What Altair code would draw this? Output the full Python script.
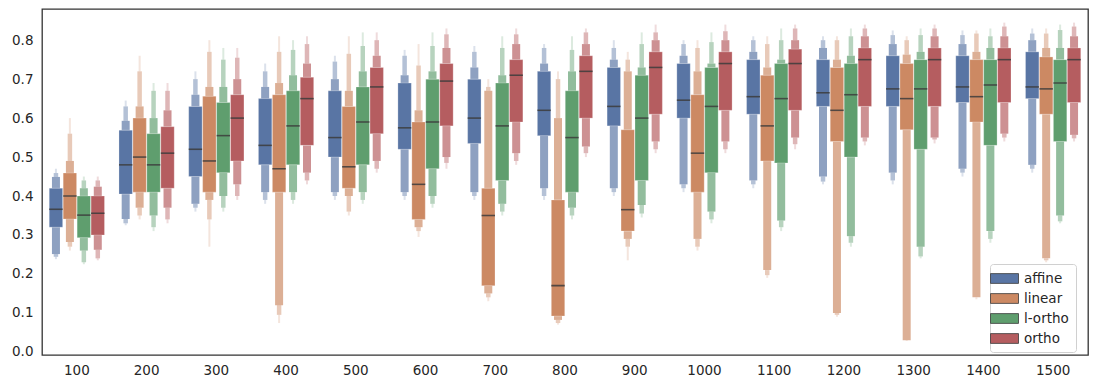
import altair as alt
import pandas as pd

GROUPS = ["100", "200", "300", "400", "500", "600", "700", "800", "900",
          "1000", "1100", "1200", "1300", "1400", "1500"]
METHODS = ["affine", "linear", "l-ortho", "ortho"]
COLORS = ["#5975A4", "#CC8963", "#5F9E6E", "#B55D60"]

# per group: (l4lo, l3lo, l2lo, l1lo, median, l1hi, l2hi, l3hi, l4hi)
AFFINE = [
    (0.238, 0.244, 0.251, 0.32, 0.366, 0.42, 0.449, 0.459, 0.47),
    (0.325, 0.33, 0.341, 0.405, 0.48, 0.569, 0.593, 0.63, 0.645),
    (0.36, 0.37, 0.38, 0.45, 0.52, 0.63, 0.66, 0.70, 0.72),
    (0.38, 0.39, 0.41, 0.48, 0.53, 0.65, 0.68, 0.72, 0.74),
    (0.39, 0.40, 0.41, 0.50, 0.55, 0.67, 0.70, 0.745, 0.76),
    (0.39, 0.40, 0.41, 0.52, 0.575, 0.69, 0.71, 0.76, 0.775),
    (0.39, 0.40, 0.41, 0.535, 0.60, 0.70, 0.73, 0.77, 0.785),
    (0.39, 0.40, 0.42, 0.555, 0.62, 0.72, 0.74, 0.78, 0.79),
    (0.40, 0.41, 0.42, 0.58, 0.63, 0.73, 0.75, 0.78, 0.80),
    (0.41, 0.42, 0.43, 0.60, 0.646, 0.74, 0.76, 0.79, 0.80),
    (0.42, 0.43, 0.44, 0.61, 0.655, 0.75, 0.77, 0.80, 0.81),
    (0.43, 0.437, 0.45, 0.63, 0.665, 0.75, 0.78, 0.80, 0.81),
    (0.43, 0.44, 0.46, 0.63, 0.675, 0.76, 0.79, 0.813, 0.825),
    (0.45, 0.46, 0.47, 0.64, 0.68, 0.76, 0.79, 0.813, 0.825),
    (0.46, 0.47, 0.48, 0.65, 0.68, 0.77, 0.80, 0.817, 0.83),
]
LINEAR = [
    (0.26, 0.27, 0.282, 0.341, 0.40, 0.459, 0.49, 0.56, 0.60),
    (0.34, 0.35, 0.37, 0.41, 0.50, 0.60, 0.63, 0.72, 0.76),
    (0.27, 0.34, 0.39, 0.41, 0.49, 0.656, 0.68, 0.77, 0.80),
    (0.074, 0.095, 0.12, 0.41, 0.47, 0.66, 0.69, 0.77, 0.81),
    (0.35, 0.36, 0.40, 0.42, 0.475, 0.63, 0.67, 0.765, 0.81),
    (0.295, 0.31, 0.32, 0.34, 0.43, 0.59, 0.62, 0.735, 0.79),
    (0.13, 0.14, 0.15, 0.17, 0.35, 0.42, 0.67, 0.68, 0.70),
    (0.07, 0.074, 0.082, 0.092, 0.17, 0.39, 0.60, 0.70, 0.72),
    (0.235, 0.27, 0.29, 0.31, 0.365, 0.57, 0.72, 0.75, 0.77),
    (0.26, 0.27, 0.29, 0.41, 0.51, 0.66, 0.72, 0.78, 0.80),
    (0.19, 0.197, 0.21, 0.49, 0.58, 0.71, 0.73, 0.79, 0.81),
    (0.09, 0.095, 0.10, 0.54, 0.62, 0.73, 0.75, 0.80, 0.81),
    (0.028, 0.03, 0.03, 0.57, 0.65, 0.74, 0.763, 0.80, 0.81),
    (0.135, 0.14, 0.14, 0.59, 0.655, 0.75, 0.77, 0.817, 0.825),
    (0.23, 0.235, 0.24, 0.61, 0.675, 0.757, 0.78, 0.817, 0.83),
]
LORTHO = [
    (0.225, 0.23, 0.26, 0.293, 0.351, 0.40, 0.42, 0.44, 0.45),
    (0.31, 0.32, 0.35, 0.41, 0.48, 0.56, 0.60, 0.67, 0.69),
    (0.36, 0.37, 0.40, 0.46, 0.555, 0.64, 0.68, 0.75, 0.78),
    (0.38, 0.39, 0.41, 0.48, 0.58, 0.67, 0.71, 0.775, 0.80),
    (0.38, 0.39, 0.41, 0.48, 0.59, 0.68, 0.72, 0.785, 0.82),
    (0.37, 0.38, 0.40, 0.47, 0.59, 0.70, 0.72, 0.785, 0.82),
    (0.35, 0.36, 0.38, 0.44, 0.58, 0.69, 0.71, 0.78, 0.81),
    (0.34, 0.35, 0.37, 0.41, 0.55, 0.67, 0.72, 0.775, 0.81),
    (0.345, 0.355, 0.377, 0.44, 0.60, 0.71, 0.73, 0.79, 0.82),
    (0.33, 0.34, 0.36, 0.46, 0.63, 0.73, 0.74, 0.795, 0.82),
    (0.31, 0.32, 0.337, 0.485, 0.65, 0.74, 0.75, 0.80, 0.83),
    (0.27, 0.28, 0.297, 0.50, 0.66, 0.74, 0.76, 0.81, 0.83),
    (0.24, 0.245, 0.27, 0.52, 0.675, 0.75, 0.77, 0.813, 0.83),
    (0.28, 0.29, 0.31, 0.53, 0.685, 0.75, 0.78, 0.81, 0.83),
    (0.33, 0.335, 0.35, 0.54, 0.69, 0.75, 0.78, 0.826, 0.84),
]
ORTHO = [
    (0.235, 0.24, 0.262, 0.30, 0.356, 0.40, 0.424, 0.44, 0.45),
    (0.33, 0.34, 0.37, 0.42, 0.51, 0.578, 0.62, 0.67, 0.69),
    (0.39, 0.40, 0.43, 0.49, 0.60, 0.66, 0.70, 0.755, 0.78),
    (0.43, 0.44, 0.46, 0.53, 0.65, 0.705, 0.74, 0.79, 0.81),
    (0.46, 0.47, 0.49, 0.56, 0.68, 0.73, 0.76, 0.80, 0.82),
    (0.47, 0.485, 0.50, 0.58, 0.695, 0.74, 0.78, 0.815, 0.83),
    (0.48, 0.49, 0.51, 0.59, 0.71, 0.75, 0.79, 0.815, 0.83),
    (0.50, 0.51, 0.527, 0.60, 0.72, 0.76, 0.79, 0.82, 0.83),
    (0.51, 0.52, 0.54, 0.61, 0.73, 0.77, 0.80, 0.82, 0.84),
    (0.51, 0.52, 0.54, 0.62, 0.74, 0.77, 0.80, 0.823, 0.84),
    (0.52, 0.533, 0.55, 0.62, 0.74, 0.777, 0.80, 0.83, 0.84),
    (0.53, 0.54, 0.55, 0.63, 0.75, 0.78, 0.81, 0.83, 0.84),
    (0.535, 0.545, 0.55, 0.63, 0.75, 0.78, 0.81, 0.83, 0.84),
    (0.54, 0.55, 0.56, 0.64, 0.75, 0.78, 0.81, 0.835, 0.845),
    (0.54, 0.548, 0.557, 0.64, 0.75, 0.78, 0.81, 0.835, 0.845),
]

SERIES = {"affine": AFFINE, "linear": LINEAR, "l-ortho": LORTHO, "ortho": ORTHO}

rows = []
for m in METHODS:
    for g, v in zip(GROUPS, SERIES[m]):
        l4lo, l3lo, l2lo, l1lo, med, l1hi, l2hi, l3hi, l4hi = v
        rows.append(dict(group=g, method=m, level=1, lo=l1lo, hi=l1hi))
        rows.append(dict(group=g, method=m, level=2, lo=l2lo, hi=l1lo))
        rows.append(dict(group=g, method=m, level=2, lo=l1hi, hi=l2hi))
        rows.append(dict(group=g, method=m, level=3, lo=l3lo, hi=l2lo))
        rows.append(dict(group=g, method=m, level=3, lo=l2hi, hi=l3hi))
        rows.append(dict(group=g, method=m, level=4, lo=l4lo, hi=l3lo))
        rows.append(dict(group=g, method=m, level=4, lo=l3hi, hi=l4hi))
        rows.append(dict(group=g, method=m, level=0, lo=med - 0.002, hi=med + 0.002))
df = pd.DataFrame(rows)

x_enc = alt.X("group:N", sort=GROUPS, title=None,
              scale=alt.Scale(paddingInner=0.2, paddingOuter=0.1),
              axis=alt.Axis(labelAngle=0, ticks=False, tickSize=0, domain=False,
                            labelPadding=8, labelFontSize=13.5, labelColor="#262626"))
y_enc = alt.Y("lo:Q", title=None,
              scale=alt.Scale(domain=[-0.008, 0.88], nice=False, zero=False),
              axis=alt.Axis(values=[0, 0.1, 0.2, 0.3, 0.4, 0.5, 0.6, 0.7, 0.8],
                            format=".1f", grid=False, ticks=False, tickSize=0,
                            domain=False, labelPadding=9, labelFontSize=13.5,
                            labelColor="#262626", minExtent=34, maxExtent=34))
xoff = alt.XOffset("method:N", sort=METHODS,
                   scale=alt.Scale(paddingInner=0, paddingOuter=0))
color = alt.Color("method:N", sort=METHODS,
                  scale=alt.Scale(domain=METHODS, range=COLORS),
                  legend=alt.Legend(title=None, orient="none", legendX=948, legendY=255,
                                    symbolType="M-2,-0.7H2V0.7H-2Z", symbolSize=196,
                                    symbolStrokeColor="#3a3a3a", symbolStrokeWidth=0.8,
                                    symbolOpacity=1, labelFontSize=13.5,
                                    labelColor="#262626", labelOffset=12, rowPadding=6,
                                    padding=7, fillColor="white", strokeColor="#d0d0d0",
                                    cornerRadius=3))

base = alt.Chart(df).encode(x=x_enc, xOffset=xoff, y=y_enc, y2="hi:Q", color=color)

l4 = base.transform_filter("datum.level == 4").mark_bar(width=2, opacity=0.22)
l3 = base.transform_filter("datum.level == 3").mark_bar(width=4.5, opacity=0.45)
l2 = base.transform_filter("datum.level == 2").mark_bar(width=8, opacity=0.68)
l1 = base.transform_filter("datum.level == 1").mark_bar(
    width=13.4, opacity=1, stroke="white", strokeWidth=0.4, strokeOpacity=0.6)
md = alt.Chart(df).transform_filter("datum.level == 0").mark_bar(
    width=13.4, color="#3c3c3c", opacity=0.85).encode(x=x_enc, xOffset=xoff, y=y_enc, y2="hi:Q")

chart = alt.layer(l4, l3, l2, l1, md).properties(
    width=1046, height=346
).configure(
    font="DejaVu Sans", padding={"left": 0, "top": 1, "right": 2, "bottom": 0}
).configure_view(
    stroke="#333333", strokeWidth=1.3
)

chart.save("out.html", embed_options={"renderer": "svg", "actions": False})
